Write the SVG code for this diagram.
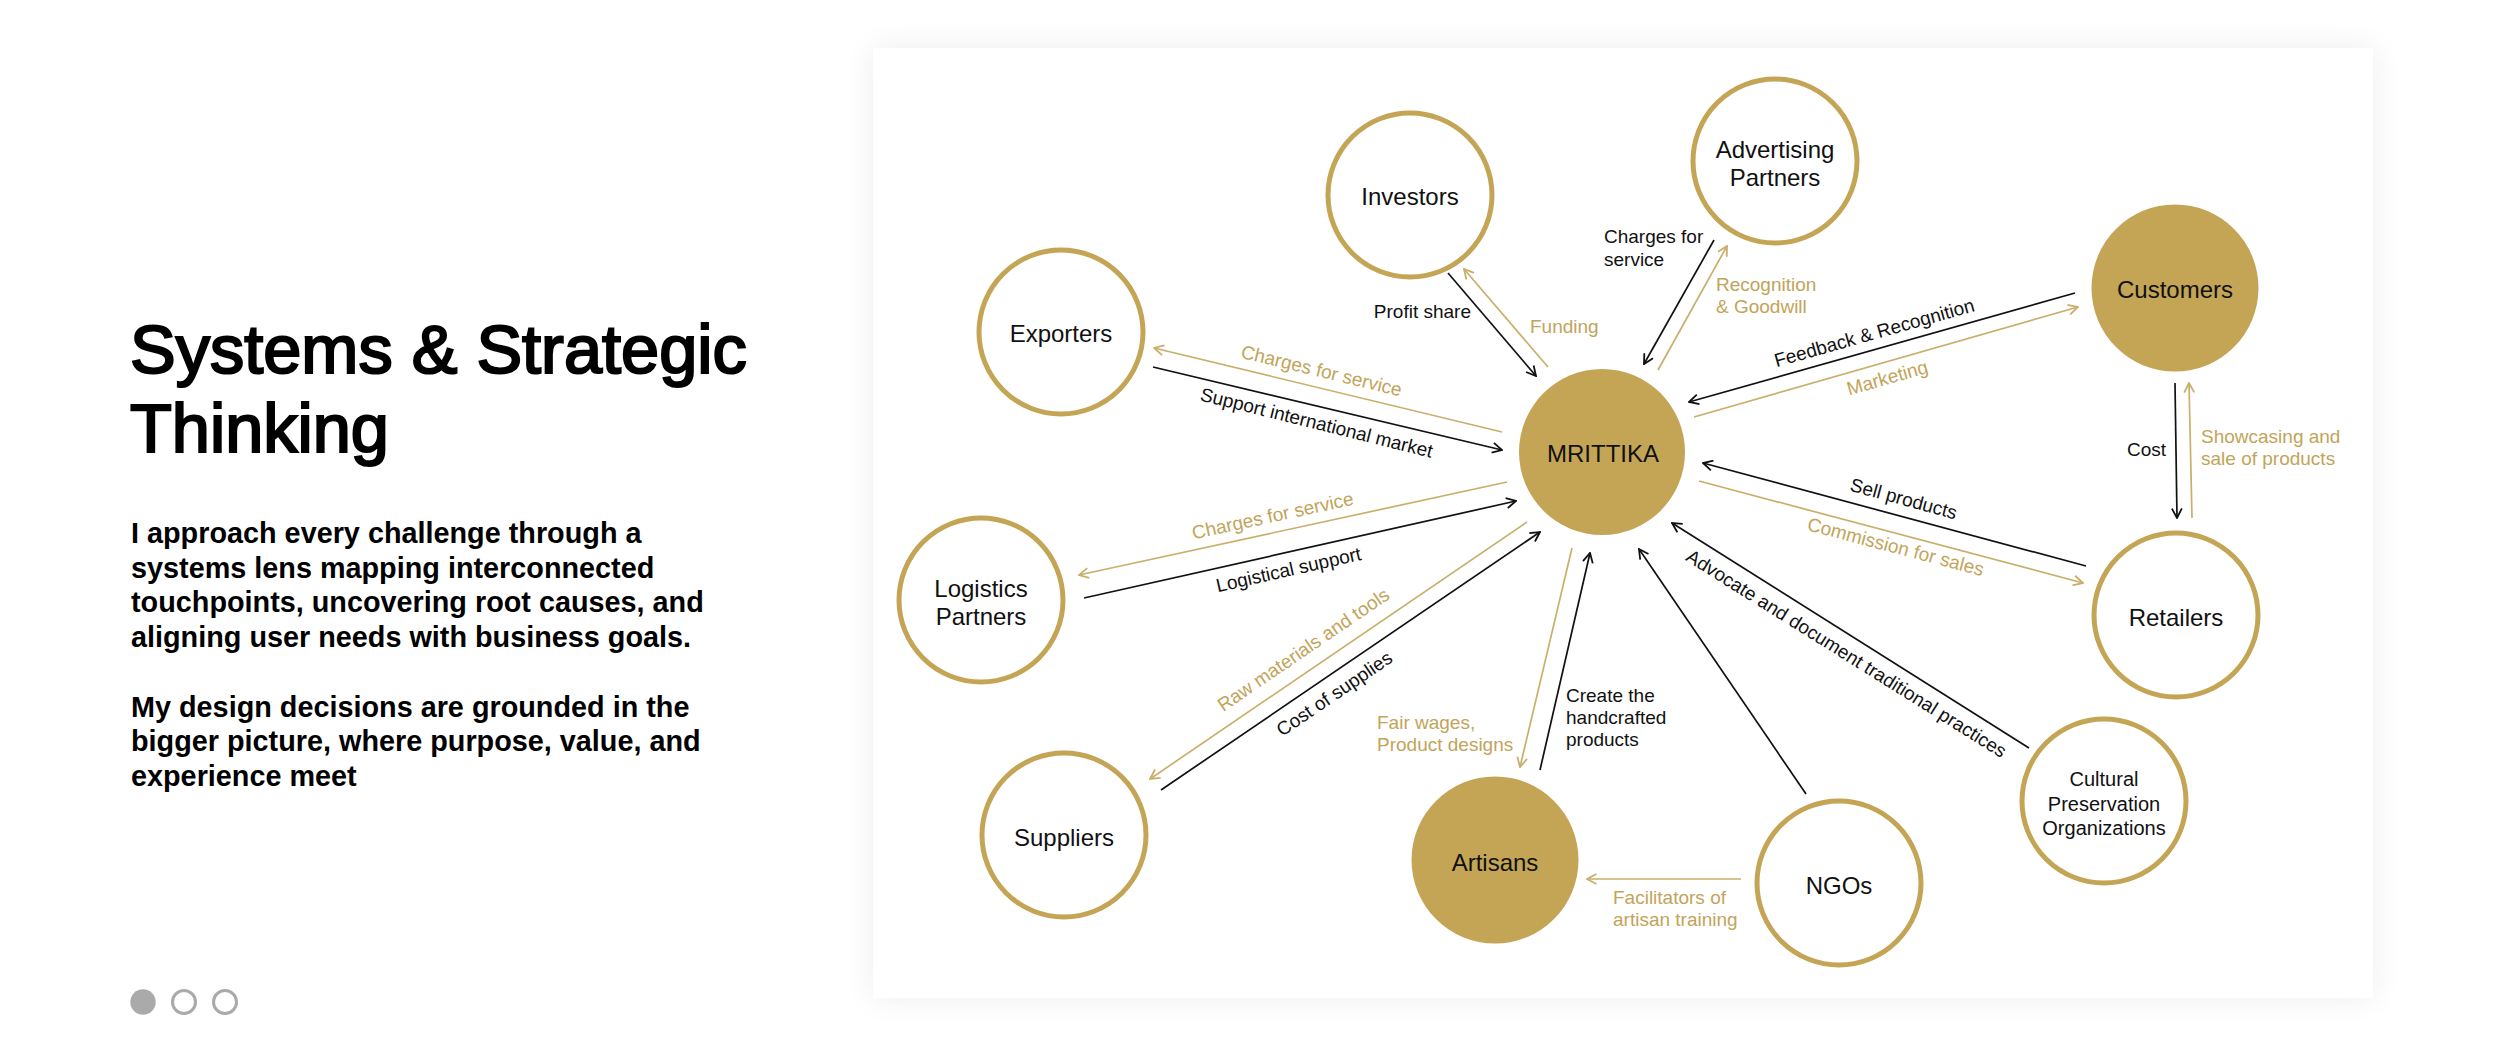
<svg xmlns="http://www.w3.org/2000/svg" width="2500" height="1045" viewBox="0 0 2500 1045">
<style>
text{font-family:"Liberation Sans",Arial,Helvetica,sans-serif}
.ring{fill:#fff;stroke:#C4A555;stroke-width:5}
.fill{fill:#C4A555}
.n{font-size:24px;fill:#111;text-anchor:middle}
.ns{font-size:20px;fill:#111;text-anchor:middle}
.lb{font-size:19px;fill:#111}
.lg{font-size:19px;fill:#C2A45A}
.c{text-anchor:middle}
.e{text-anchor:end}
.kb{fill:none;stroke:#111;stroke-width:1.7}
.kg{fill:none;stroke:#C9AF6B;stroke-width:1.7}
.title{font-size:68.5px;fill:#000;stroke:#000;stroke-width:2.2}
.body{font-size:28.8px;font-weight:bold;fill:#000}
</style>
<defs>
<filter id="sh" x="-10%" y="-10%" width="120%" height="120%">
<feGaussianBlur stdDeviation="16"/>
</filter>
<marker id="ab" viewBox="0 0 12 12" refX="11" refY="6" markerWidth="12" markerHeight="12" markerUnits="userSpaceOnUse" orient="auto"><path d="M1.5,1 L11,6 L1.5,11" fill="none" stroke="#111" stroke-width="1.8"/></marker>
<marker id="ag" viewBox="0 0 12 12" refX="11" refY="6" markerWidth="12" markerHeight="12" markerUnits="userSpaceOnUse" orient="auto"><path d="M1.5,1 L11,6 L1.5,11" fill="none" stroke="#C9AF6B" stroke-width="1.8"/></marker>
</defs>
<rect width="2500" height="1045" fill="#fff"/>
<rect x="873" y="48" width="1500" height="950" fill="#000" opacity="0.07" filter="url(#sh)"/>
<rect x="873" y="48" width="1500" height="950" fill="#fff"/>

<g id="intro">
<text class="title" x="130" y="373">Systems &amp; Strategic</text>
<text class="title" x="130" y="452">Thinking</text>
<text class="body" x="131" y="543">I approach every challenge through a</text>
<text class="body" x="131" y="578">systems lens mapping interconnected</text>
<text class="body" x="131" y="612">touchpoints, uncovering root causes, and</text>
<text class="body" x="131" y="647">aligning user needs with business goals.</text>
<text class="body" x="131" y="717">My design decisions are grounded in the</text>
<text class="body" x="131" y="751">bigger picture, where purpose, value, and</text>
<text class="body" x="131" y="786">experience meet</text>
</g>
<g id="pager">
<circle cx="143" cy="1002" r="12.7" fill="#aaa"/>
<circle cx="184" cy="1002" r="11.5" fill="none" stroke="#aaa" stroke-width="3"/>
<circle cx="225" cy="1002" r="11.5" fill="none" stroke="#aaa" stroke-width="3"/>
</g>

<g id="connectors">
<path class="kb" d="M1448,273 L1536,376" marker-end="url(#ab)"/>
<path class="kg" d="M1548,367 L1464,269" marker-end="url(#ag)"/>
<path class="kg" d="M1502,432 L1154,348" marker-end="url(#ag)"/>
<path class="kb" d="M1153,367 L1502,450" marker-end="url(#ab)"/>
<path class="kb" d="M1714,240 L1644,364" marker-end="url(#ab)"/>
<path class="kg" d="M1658,370 L1727,246" marker-end="url(#ag)"/>
<path class="kb" d="M2075,293 L1689,402" marker-end="url(#ab)"/>
<path class="kg" d="M1694,417 L2078,307" marker-end="url(#ag)"/>
<path class="kb" d="M2175,383 L2177,518" marker-end="url(#ab)"/>
<path class="kg" d="M2192,518 L2189,383" marker-end="url(#ag)"/>
<path class="kb" d="M2086,566 L1703,463" marker-end="url(#ab)"/>
<path class="kg" d="M1699,481 L2083,583" marker-end="url(#ag)"/>
<path class="kb" d="M2029,748 L1672,523" marker-end="url(#ab)"/>
<path class="kb" d="M1806,794 L1639,549" marker-end="url(#ab)"/>
<path class="kg" d="M1741,879 L1587,879" marker-end="url(#ag)"/>
<path class="kb" d="M1540,770 L1590,553" marker-end="url(#ab)"/>
<path class="kg" d="M1572,548 L1520,767" marker-end="url(#ag)"/>
<path class="kg" d="M1527,522 L1150,779" marker-end="url(#ag)"/>
<path class="kb" d="M1161,790 L1540,532" marker-end="url(#ab)"/>
<path class="kg" d="M1507,482 L1079,575" marker-end="url(#ag)"/>
<path class="kb" d="M1084,598 L1516,501" marker-end="url(#ab)"/>

<text class="lb e" x="1471" y="318">Profit share</text>
<text class="lg" x="1530" y="333">Funding</text>
<text class="lg c" transform="translate(1320,377) rotate(13.6)">Charges for service</text>
<text class="lb c" transform="translate(1315,429) rotate(14)">Support international market</text>
<text class="lb" x="1604" y="243">Charges for</text>
<text class="lb" x="1604" y="266">service</text>
<text class="lg" x="1716" y="291">Recognition</text>
<text class="lg" x="1716" y="313">&amp; Goodwill</text>
<text class="lb c" transform="translate(1876,339) rotate(-15.8)">Feedback &amp; Recognition</text>
<text class="lg c" transform="translate(1889,384) rotate(-16)">Marketing</text>
<text class="lb e" x="2166" y="456">Cost</text>
<text class="lg" x="2201" y="443">Showcasing and</text>
<text class="lg" x="2201" y="465">sale of products</text>
<text class="lb c" transform="translate(1902,505) rotate(15.2)">Sell products</text>
<text class="lg c" transform="translate(1894,553) rotate(14.7)">Commission for sales</text>
<text class="lb c" transform="translate(1843,659) rotate(32.1)">Advocate and document traditional practices</text>
<text class="lg" x="1613" y="904">Facilitators of</text>
<text class="lg" x="1613" y="926">artisan training</text>
<text class="lb" x="1566" y="702">Create the</text>
<text class="lb" x="1566" y="724">handcrafted</text>
<text class="lb" x="1566" y="746">products</text>
<text class="lg" x="1377" y="729">Fair wages,</text>
<text class="lg" x="1377" y="751">Product designs</text>
<text class="lg c" transform="translate(1307,655) rotate(-34.3)">Raw materials and tools</text>
<text class="lb c" transform="translate(1338,699) rotate(-34.2)">Cost of supplies</text>
<text class="lg c" transform="translate(1274,522) rotate(-12.3)">Charges for service</text>
<text class="lb c" transform="translate(1290,576) rotate(-12.7)">Logistical support</text>
</g>

<g id="mrittika"><circle class="fill" cx="1602" cy="452" r="83"/><text class="n" x="1603" y="462">MRITTIKA</text></g>
<g id="investors"><circle class="ring" cx="1410" cy="195" r="82"/><text class="n" x="1410" y="205">Investors</text></g>
<g id="advertising"><circle class="ring" cx="1775" cy="161" r="82"/><text class="n" x="1775" y="158">Advertising</text><text class="n" x="1775" y="186">Partners</text></g>
<g id="customers"><circle class="fill" cx="2175" cy="288" r="83.5"/><text class="n" x="2175" y="298">Customers</text></g>
<g id="exporters"><circle class="ring" cx="1061" cy="332" r="82"/><text class="n" x="1061" y="342">Exporters</text></g>
<g id="logistics"><circle class="ring" cx="981" cy="600" r="82"/><text class="n" x="981" y="597">Logistics</text><text class="n" x="981" y="625">Partners</text></g>
<g id="suppliers"><circle class="ring" cx="1064" cy="835" r="82"/><text class="n" x="1064" y="846">Suppliers</text></g>
<g id="artisans"><circle class="fill" cx="1495" cy="860" r="83.5"/><text class="n" x="1495" y="871">Artisans</text></g>
<g id="ngos"><circle class="ring" cx="1839" cy="883" r="82"/><text class="n" x="1839" y="894">NGOs</text></g>
<g id="cultural"><circle class="ring" cx="2104" cy="801" r="82"/><text class="ns" x="2104" y="786">Cultural</text><text class="ns" x="2104" y="811">Preservation</text><text class="ns" x="2104" y="835">Organizations</text></g>
<g id="retailers"><circle class="ring" cx="2176" cy="615" r="82"/><text class="n" x="2176" y="626">Retailers</text></g>
</svg>
